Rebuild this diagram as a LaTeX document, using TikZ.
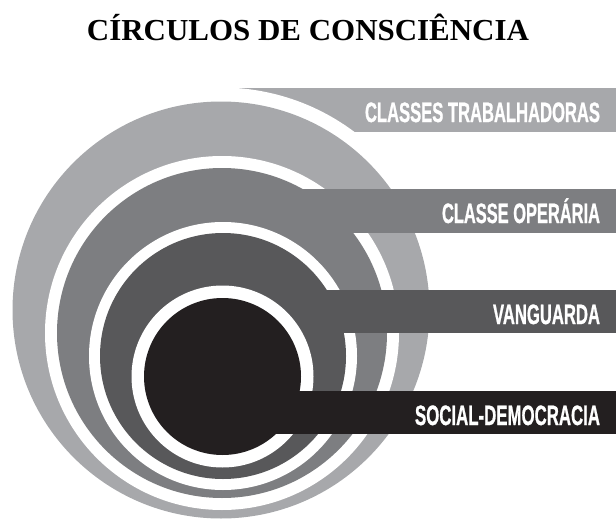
\documentclass[tikz,border=0pt]{standalone}
\usepackage{fontspec}
\usepackage{graphicx}
\setmainfont{Liberation Serif}
\newfontfamily\bandfont[BoldFeatures={FakeBold=1.2}]{Liberation Sans}
\definecolor{lightg}{HTML}{A7A8AB}
\definecolor{midg}{HTML}{7D7E81}
\definecolor{darkg}{HTML}{58585A}
\definecolor{blackg}{HTML}{231F20}
\newcommand{\squeeze}[2]{\resizebox{#1}{\height}{#2}}
\tikzset{
  bandlabel/.style={anchor=base east, text=white, inner sep=0pt, outer sep=0pt,
    font=\bandfont\bfseries\fontsize{28}{28}\selectfont},
  titlelabel/.style={anchor=base, inner sep=0pt, outer sep=0pt,
    font=\bfseries\fontsize{30.5}{30.5}\selectfont},
}
\begin{document}
\begin{tikzpicture}[x=1pt,y=-1pt]
\useasboundingbox (0,0) rectangle (616,519);
\fill[white] (0,0) rectangle (616,519);
% level 1
\fill[lightg] (221,88) rectangle (616,132);
\fill[white] (221,310) circle[radius=222.5pt];
\fill[lightg] (221,310) circle[radius=208.5pt];
% level 2
\fill[white] (222,333) circle[radius=177pt];
\fill[midg] (222,333) circle[radius=165pt];
\fill[midg] (222,189) rectangle (616,233);
% level 3
\fill[white] (223,356) circle[radius=134pt];
\fill[darkg] (223,356) circle[radius=123pt];
\fill[darkg] (223,290) rectangle (616,333);
% level 4
\fill[white] (222.5,376.5) circle[radius=91pt];
\fill[blackg] (222.5,376.5) circle[radius=78.5pt];
\fill[blackg] (222.5,391) rectangle (616,434);
% labels
\node[titlelabel] (title) at (308,41) {\squeeze{442pt}{CÍRCULOS DE CONSCIÊNCIA}};
\node[bandlabel] (l1) at (600,122) {\squeeze{235pt}{CLASSES TRABALHADORAS}};
\node[bandlabel] (l2) at (600,223) {\squeeze{158pt}{CLASSE OPERÁRIA}};
\node[bandlabel] (l3) at (600,324) {\squeeze{107pt}{VANGUARDA}};
\node[bandlabel] (l4) at (600,425) {\squeeze{185pt}{SOCIAL-DEMOCRACIA}};
\end{tikzpicture}
\end{document}
